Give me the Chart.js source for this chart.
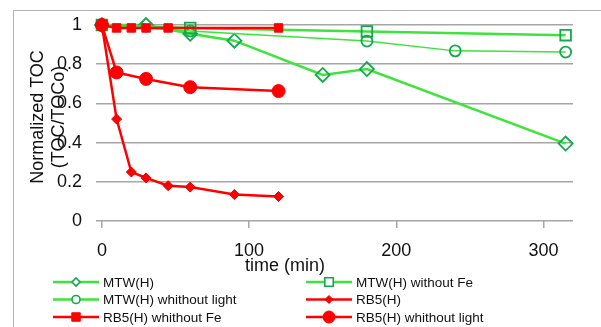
<!DOCTYPE html>
<html>
<head>
<meta charset="utf-8">
<script src="https://cdn.jsdelivr.net/npm/chart.js"></script>
<style>
  html, body { margin: 0; padding: 0; background: #fff; }
  #wrap { position: relative; width: 601px; height: 327px; overflow: hidden; }
  #frame { position: absolute; left: 13px; top: 10px; width: 700px; height: 400px;
           border-left: 1px solid #b4b4b4; border-top: 1px solid #b4b4b4; }
  canvas { position: absolute; left: 0; top: 0; }
</style>
</head>
<body>
<div id="wrap">
  <div id="frame"></div>
  <canvas id="chart" width="601" height="327"></canvas>
</div>
<script>
// time (min) and normalized TOC for each run
const mtwTime = [0, 30, 60, 90, 150, 180, 315]
const mtwToc = [1, 1, 0.955, 0.92, 0.745, 0.775, 0.395]

const mtwNoFeTime = [0, 60, 180, 315]
const mtwNoFeToc = [1, 0.985, 0.967, 0.948]

const mtwNoLightTime = [0, 60, 180, 240, 315]
const mtwNoLightToc = [1, 0.97, 0.918, 0.868, 0.862]

const rb5Time = [0, 10, 20, 30, 45, 60, 90, 120]
const rb5Toc = [1, 0.52, 0.25, 0.22, 0.18, 0.173, 0.135, 0.125]

const rb5NoFeTime = [0, 10, 20, 30, 45, 120]
const rb5NoFeToc = [1, 0.985, 0.985, 0.985, 0.985, 0.985]

const rb5NoLightTime = [0, 10, 30, 60, 120]
const rb5NoLightToc = [1, 0.758, 0.725, 0.683, 0.663]

const seriesNames = ['MTW(H)', 'MTW(H) without Fe', 'MTW(H) whithout light',
                     'RB5(H)', 'RB5(H) whithout Fe', 'RB5(H) whithout light']

const xTicks = [0, 100, 200, 300]
const xTitle = 'time (min)'
const yTitle = ['Normalized TOC', '(TOC/TOCo)']

const GREEN = '#3de43a'
const GREEN_MK = '#10aa4c'
const RED = '#ff0000'
const FONT = '"Liberation Sans", Arial, sans-serif'

function pts(xs, ys)
{
    return xs.map((x, i) => ({x: x, y: ys[i]}))
}

const datasets = [
    {label: seriesNames[0], data: pts(mtwTime, mtwToc), borderColor: GREEN, borderWidth: 2.5,
     pointStyle: 'rectRot', pointRadius: 7, pointBorderColor: GREEN_MK, pointBackgroundColor: 'rgba(0,0,0,0)', pointBorderWidth: 1.8,
     legendRadius: 4},
    {label: seriesNames[1], data: pts(mtwNoFeTime, mtwNoFeToc), borderColor: GREEN, borderWidth: 2.5,
     pointStyle: 'rect', pointRadius: 7.5, pointBorderColor: GREEN_MK, pointBackgroundColor: 'rgba(0,0,0,0)', pointBorderWidth: 1.8,
     legendRadius: 6},
    {label: seriesNames[2], data: pts(mtwNoLightTime, mtwNoLightToc), borderColor: GREEN, borderWidth: 1.5,
     pointStyle: 'circle', pointRadius: 5.5, pointBorderColor: GREEN_MK, pointBackgroundColor: 'rgba(0,0,0,0)', pointBorderWidth: 1.8,
     legendRadius: 4},
    {label: seriesNames[3], data: pts(rb5Time, rb5Toc), borderColor: RED, borderWidth: 2.5,
     pointStyle: 'rectRot', pointRadius: 5, pointBorderColor: '#e00000', pointBackgroundColor: RED, pointBorderWidth: 1,
     legendRadius: 4},
    {label: seriesNames[4], data: pts(rb5NoFeTime, rb5NoFeToc), borderColor: RED, borderWidth: 2.5,
     pointStyle: 'rect', pointRadius: 6, pointBorderColor: RED, pointBackgroundColor: RED, pointBorderWidth: 1,
     legendRadius: 6},
    {label: seriesNames[5], data: pts(rb5NoLightTime, rb5NoLightToc), borderColor: RED, borderWidth: 2.5,
     pointStyle: 'circle', pointRadius: 6.5, pointBorderColor: RED, pointBackgroundColor: RED, pointBorderWidth: 1,
     legendRadius: 6}
]
datasets.forEach((d, i) => { d.order = datasets.length - i; d.tension = 0; d.clip = false })

function marker(ctx, style, r, x, y)
{
    ctx.beginPath()
    if (style === 'circle') {
        ctx.arc(x, y, r, 0, Math.PI * 2)
    } else if (style === 'rect') {
        const s = Math.SQRT1_2 * r
        ctx.rect(x - s, y - s, 2 * s, 2 * s)
    } else {
        ctx.moveTo(x - r, y); ctx.lineTo(x, y - r); ctx.lineTo(x + r, y); ctx.lineTo(x, y + r)
        ctx.closePath()
    }
    ctx.fill()
    ctx.stroke()
}

// titles and the two-column legend, placed like the Excel original
const extras = {
    id: 'extras',
    afterDraw(chart) {
        const ctx = chart.ctx
        ctx.save()
        ctx.fillStyle = '#111'
        ctx.textAlign = 'center'
        ctx.textBaseline = 'middle'
        ctx.font = '18px ' + FONT
        ctx.fillText(xTitle, 285, 266)

        yTitle.forEach((t, i) => {
            ctx.save()
            ctx.translate(38 + i * 21, 117)
            ctx.rotate(-Math.PI / 2)
            ctx.fillText(t, 0, 0)
            ctx.restore()
        })

        const cols = [53, 306], rows = [282, 299.5, 317]
        ctx.font = '13.5px ' + FONT
        ctx.textAlign = 'left'
        chart.data.datasets.forEach((d, i) => {
            const x0 = cols[i % 2], y = rows[Math.floor(i / 2)]
            ctx.strokeStyle = d.borderColor
            ctx.lineWidth = 2.5
            ctx.beginPath()
            ctx.moveTo(x0, y); ctx.lineTo(x0 + 46, y)
            ctx.stroke()
            ctx.strokeStyle = d.pointBorderColor
            ctx.fillStyle = d.pointBackgroundColor === RED ? RED : '#fff'
            ctx.lineWidth = d.pointBackgroundColor === RED ? 1 : 1.6
            marker(ctx, d.pointStyle, d.legendRadius, x0 + 23, y)
            ctx.fillStyle = '#111'
            ctx.fillText(d.label, x0 + 50, y + 1)
        })
        ctx.restore()
    }
}

new Chart(document.getElementById('chart'), {
    type: 'line',
    data: {datasets: datasets},
    plugins: [extras],
    options: {
        responsive: false,
        animation: false,
        layout: {padding: {left: 0, right: 28, top: 25, bottom: 0}},
        plugins: {legend: {display: false}, tooltip: {enabled: false}},
        scales: {
            x: {
                type: 'linear',
                min: -4,
                max: 320,
                afterFit: s => { s.height = 106 },
                afterBuildTicks: s => { s.ticks = xTicks.map(v => ({value: v})) },
                grid: {drawOnChartArea: false, drawTicks: true, tickLength: 7, color: '#a6a6a6', lineWidth: 1.5},
                border: {display: false},
                ticks: {font: {family: FONT, size: 18}, color: '#111', padding: 12, maxRotation: 0}
            },
            y: {
                min: 0,
                max: 1,
                afterFit: s => { s.width = 96 },
                grid: {drawTicks: false, color: '#a6a6a6', lineWidth: 1.5},
                border: {display: false},
                ticks: {stepSize: 0.2, font: {family: FONT, size: 18}, color: '#111', padding: 14,
                        callback: v => String(Number(v.toFixed(1)))}
            }
        }
    }
})
</script>
</body>
</html>
